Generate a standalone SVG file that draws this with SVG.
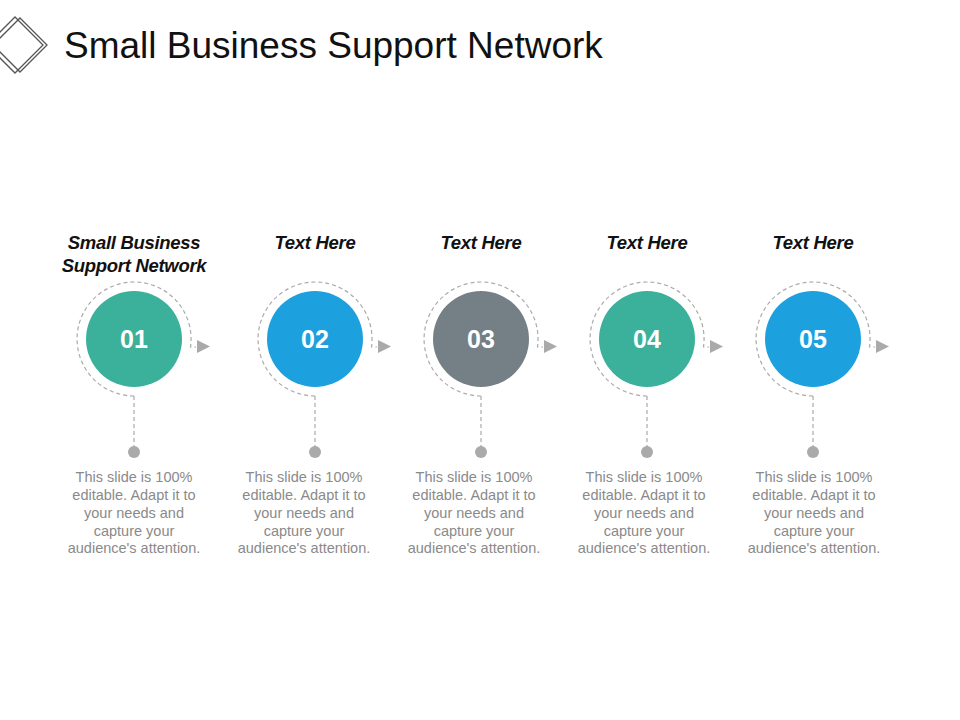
<svg xmlns="http://www.w3.org/2000/svg" width="960" height="720" viewBox="0 0 960 720">
<style>
.t{font-family:"Liberation Sans",Arial,sans-serif}
.h{font-size:18.5px;font-weight:bold;font-style:italic;fill:#111;text-anchor:middle;letter-spacing:-0.3px}
.n{font-size:25px;font-weight:bold;fill:#fff;text-anchor:middle}
.d{font-size:14.5px;fill:#8a8a8a;text-anchor:middle}
.dash{fill:none;stroke:#aaa;stroke-width:1.2;stroke-dasharray:4 3}
.arr{fill:#aaa}
.dot{fill:#aaa}
</style>
<rect width="960" height="720" fill="#fff"/>
<g id="logo" fill="none" stroke="#555" stroke-width="1.3">
<polygon points="15,17 43,45 15,73 -13,45"/>
<polygon points="20,18 47,45 20,72 -7,45"/>
</g>
<text class="t" x="64" y="58" font-size="37" fill="#111">Small Business Support Network</text>
<g id="connectors">
<path class="dash" d="M134,396 A57,57 0 1 1 190.5,347 L196,347"/>
<path class="dash" d="M134,396 V452"/>
<path class="dash" d="M315,396 A57,57 0 1 1 371.5,347 L377,347"/>
<path class="dash" d="M315,396 V452"/>
<path class="dash" d="M481,396 A57,57 0 1 1 537.5,347 L543,347"/>
<path class="dash" d="M481,396 V452"/>
<path class="dash" d="M647,396 A57,57 0 1 1 703.5,347 L709,347"/>
<path class="dash" d="M647,396 V452"/>
<path class="dash" d="M813,396 A57,57 0 1 1 869.5,347 L875,347"/>
<path class="dash" d="M813,396 V452"/>
<polygon class="arr" points="197,340 210,346.5 197,353"/>
<polygon class="arr" points="378,340 391,346.5 378,353"/>
<polygon class="arr" points="544,340 557,346.5 544,353"/>
<polygon class="arr" points="710,340 723,346.5 710,353"/>
<polygon class="arr" points="876,340 889,346.5 876,353"/>
</g>
<g id="n1" class="t">
<text class="h" x="134" y="249">Small Business</text>
<text class="h" x="134" y="272">Support Network</text>
<circle cx="134" cy="339" r="48" fill="#3bb09a"/>
<text class="n" x="134" y="348">01</text>
<circle class="dot" cx="134" cy="452" r="6"/>
<text class="d" x="134" y="482">This slide is 100%</text><text class="d" x="134" y="500">editable. Adapt it to</text><text class="d" x="134" y="518">your needs and</text><text class="d" x="134" y="536">capture your</text><text class="d" x="134" y="553">audience's attention.</text>
</g>
<g id="n2" class="t">
<text class="h" x="315" y="249">Text Here</text>
<circle cx="315" cy="339" r="48" fill="#1da0de"/>
<text class="n" x="315" y="348">02</text>
<circle class="dot" cx="315" cy="452" r="6"/>
<text class="d" x="304" y="482">This slide is 100%</text><text class="d" x="304" y="500">editable. Adapt it to</text><text class="d" x="304" y="518">your needs and</text><text class="d" x="304" y="536">capture your</text><text class="d" x="304" y="553">audience's attention.</text>
</g>
<g id="n3" class="t">
<text class="h" x="481" y="249">Text Here</text>
<circle cx="481" cy="339" r="48" fill="#757f86"/>
<text class="n" x="481" y="348">03</text>
<circle class="dot" cx="481" cy="452" r="6"/>
<text class="d" x="474" y="482">This slide is 100%</text><text class="d" x="474" y="500">editable. Adapt it to</text><text class="d" x="474" y="518">your needs and</text><text class="d" x="474" y="536">capture your</text><text class="d" x="474" y="553">audience's attention.</text>
</g>
<g id="n4" class="t">
<text class="h" x="647" y="249">Text Here</text>
<circle cx="647" cy="339" r="48" fill="#3bb09a"/>
<text class="n" x="647" y="348">04</text>
<circle class="dot" cx="647" cy="452" r="6"/>
<text class="d" x="644" y="482">This slide is 100%</text><text class="d" x="644" y="500">editable. Adapt it to</text><text class="d" x="644" y="518">your needs and</text><text class="d" x="644" y="536">capture your</text><text class="d" x="644" y="553">audience's attention.</text>
</g>
<g id="n5" class="t">
<text class="h" x="813" y="249">Text Here</text>
<circle cx="813" cy="339" r="48" fill="#1da0de"/>
<text class="n" x="813" y="348">05</text>
<circle class="dot" cx="813" cy="452" r="6"/>
<text class="d" x="814" y="482">This slide is 100%</text><text class="d" x="814" y="500">editable. Adapt it to</text><text class="d" x="814" y="518">your needs and</text><text class="d" x="814" y="536">capture your</text><text class="d" x="814" y="553">audience's attention.</text>
</g>
</svg>
